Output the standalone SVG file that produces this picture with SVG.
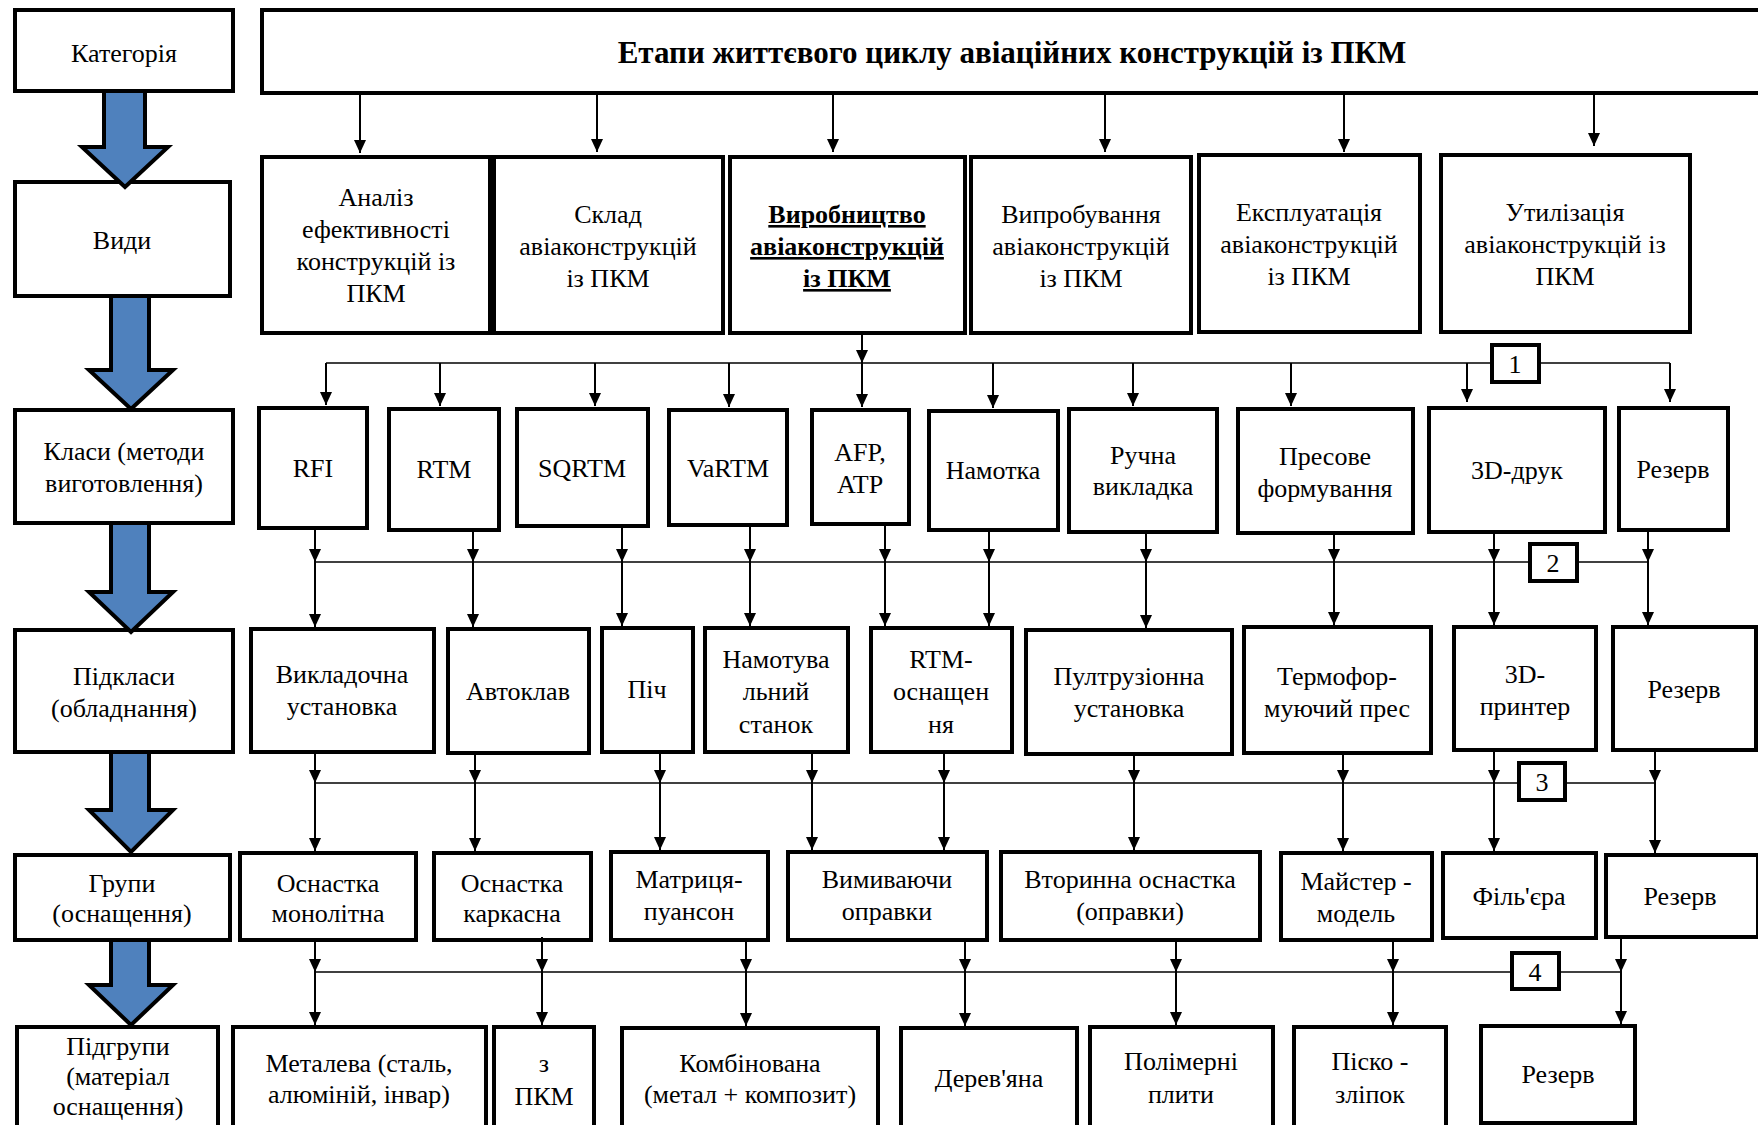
<svg xmlns="http://www.w3.org/2000/svg" width="1758" height="1125" viewBox="0 0 1758 1125">
<style>
  .box{fill:#fff;stroke:#000;stroke-width:4;stroke-linejoin:miter}
  .lbl{fill:#fff;stroke:#000;stroke-width:4}
  .t{font-family:"Liberation Serif","Times New Roman",serif;font-size:26px;fill:#000;text-anchor:middle}
  .tb{font-weight:bold}
  .title{font-family:"Liberation Serif","Times New Roman",serif;font-size:31px;font-weight:bold;fill:#000;text-anchor:middle}
  .v{stroke:#000;stroke-width:2;fill:none}
  .bus{stroke:#000;stroke-width:1.6;fill:none}
  .big{fill:#4F81BD;stroke:#000;stroke-width:4;stroke-linejoin:miter}
</style>
<defs>
  <marker id="ah" viewBox="0 0 13 12" refX="13" refY="6" markerWidth="13" markerHeight="12" markerUnits="userSpaceOnUse" orient="auto">
    <path d="M0,0 L13,6 L0,12 z" fill="#000"/>
  </marker>
</defs>

<!-- Left column -->
<g id="n-cat"><rect class="box" x="15" y="10" width="218" height="81"/><text class="t" x="124" y="62">Категорія</text></g>
<g id="n-vydy"><rect class="box" x="15" y="182" width="215" height="114"/><text class="t" x="122" y="249">Види</text></g>
<g id="n-klasy"><rect class="box" x="15" y="410" width="218" height="113"/><text class="t" x="124" y="460">Класи (методи</text><text class="t" x="124" y="492">виготовлення)</text></g>
<g id="n-pidklasy"><rect class="box" x="15" y="630" width="218" height="122"/><text class="t" x="124" y="685">Підкласи</text><text class="t" x="124" y="717">(обладнання)</text></g>
<g id="n-hrupy"><rect class="box" x="15" y="855" width="215" height="85"/><text class="t" x="122" y="892">Групи</text><text class="t" x="122" y="922">(оснащення)</text></g>
<g id="n-pidhrupy"><rect class="box" x="17" y="1027" width="201" height="110"/><text class="t" x="118" y="1055">Підгрупи</text><text class="t" x="118" y="1085">(матеріал</text><text class="t" x="118" y="1115">оснащення)</text></g>

<!-- Title -->
<g id="n-title"><rect class="box" x="262" y="10" width="1510" height="83"/><text class="title" x="1012" y="63">Етапи життєвого циклу авіаційних конструкцій із ПКМ</text></g>

<!-- Види row -->
<g id="n-analiz"><rect class="box" x="262" y="157" width="228" height="176"/><text class="t" x="376" y="206">Аналіз</text><text class="t" x="376" y="238">ефективності</text><text class="t" x="376" y="270">конструкцій із</text><text class="t" x="376" y="302">ПКМ</text></g>
<g id="n-sklad"><rect class="box" x="494" y="157" width="229" height="176"/><text class="t" x="608" y="223">Склад</text><text class="t" x="608" y="255">авіаконструкцій</text><text class="t" x="608" y="287">із ПКМ</text></g>
<g id="n-vyrob"><rect class="box" x="730" y="157" width="235" height="176"/><text class="t tb" x="847" y="223" text-decoration="underline">Виробництво</text><text class="t tb" x="847" y="255" text-decoration="underline">авіаконструкцій</text><text class="t tb" x="847" y="287" text-decoration="underline">із ПКМ</text></g>
<g id="n-vypr"><rect class="box" x="971" y="157" width="220" height="176"/><text class="t" x="1081" y="223">Випробування</text><text class="t" x="1081" y="255">авіаконструкцій</text><text class="t" x="1081" y="287">із ПКМ</text></g>
<g id="n-ekspl"><rect class="box" x="1199" y="155" width="221" height="177"/><text class="t" x="1309" y="221">Експлуатація</text><text class="t" x="1309" y="253">авіаконструкцій</text><text class="t" x="1309" y="285">із ПКМ</text></g>
<g id="n-util"><rect class="box" x="1441" y="155" width="249" height="177"/><text class="t" x="1565" y="221">Утилізація</text><text class="t" x="1565" y="253">авіаконструкцій із</text><text class="t" x="1565" y="285">ПКМ</text></g>

<!-- Класи row -->
<g id="n-rfi"><rect class="box" x="259" y="408" width="108" height="120"/><text class="t" x="313" y="477">RFI</text></g>
<g id="n-rtm"><rect class="box" x="389" y="409" width="110" height="121"/><text class="t" x="444" y="478">RTM</text></g>
<g id="n-sqrtm"><rect class="box" x="517" y="409" width="131" height="117"/><text class="t" x="582" y="477">SQRTM</text></g>
<g id="n-vartm"><rect class="box" x="669" y="410" width="118" height="115"/><text class="t" x="728" y="477">VaRTM</text></g>
<g id="n-afp"><rect class="box" x="812" y="410" width="97" height="114"/><text class="t" x="860" y="461">AFP,</text><text class="t" x="860" y="493">ATP</text></g>
<g id="n-namotka"><rect class="box" x="929" y="411" width="129" height="119"/><text class="t" x="993" y="479">Намотка</text></g>
<g id="n-ruchna"><rect class="box" x="1069" y="409" width="148" height="123"/><text class="t" x="1143" y="464">Ручна</text><text class="t" x="1143" y="495">викладка</text></g>
<g id="n-presove"><rect class="box" x="1238" y="409" width="175" height="124"/><text class="t" x="1325" y="465">Пресове</text><text class="t" x="1325" y="497">формування</text></g>
<g id="n-3d"><rect class="box" x="1429" y="408" width="176" height="124"/><text class="t" x="1517" y="479">3D-друк</text></g>
<g id="n-rez1"><rect class="box" x="1619" y="408" width="109" height="122"/><text class="t" x="1673" y="478">Резерв</text></g>

<!-- Підкласи row -->
<g id="n-vykl"><rect class="box" x="251" y="629" width="183" height="123"/><text class="t" x="342" y="683">Викладочна</text><text class="t" x="342" y="715">установка</text></g>
<g id="n-avtoklav"><rect class="box" x="448" y="629" width="141" height="124"/><text class="t" x="518" y="700">Автоклав</text></g>
<g id="n-pich"><rect class="box" x="602" y="628" width="91" height="124"/><text class="t" x="647" y="698">Піч</text></g>
<g id="n-namst"><rect class="box" x="705" y="628" width="143" height="124"/><text class="t" x="776" y="668">Намотува</text><text class="t" x="776" y="700">льний</text><text class="t" x="776" y="733">станок</text></g>
<g id="n-rtmosn"><rect class="box" x="871" y="628" width="141" height="124"/><text class="t" x="941" y="668">RTM-</text><text class="t" x="941" y="700">оснащен</text><text class="t" x="941" y="733">ня</text></g>
<g id="n-pultr"><rect class="box" x="1026" y="630" width="206" height="124"/><text class="t" x="1129" y="685">Пултрузіонна</text><text class="t" x="1129" y="717">установка</text></g>
<g id="n-termo"><rect class="box" x="1244" y="627" width="187" height="126"/><text class="t" x="1337" y="685">Термофор-</text><text class="t" x="1337" y="717">муючий прес</text></g>
<g id="n-3dpr"><rect class="box" x="1454" y="627" width="142" height="123"/><text class="t" x="1525" y="683">3D-</text><text class="t" x="1525" y="715">принтер</text></g>
<g id="n-rez2"><rect class="box" x="1613" y="627" width="143" height="123"/><text class="t" x="1684" y="698">Резерв</text></g>

<!-- Групи row -->
<g id="n-monol"><rect class="box" x="240" y="853" width="176" height="87"/><text class="t" x="328" y="892">Оснастка</text><text class="t" x="328" y="922">монолітна</text></g>
<g id="n-kark"><rect class="box" x="434" y="853" width="157" height="87"/><text class="t" x="512" y="892">Оснастка</text><text class="t" x="512" y="922">каркасна</text></g>
<g id="n-matr"><rect class="box" x="611" y="852" width="157" height="88"/><text class="t" x="689" y="888">Матриця-</text><text class="t" x="689" y="920">пуансон</text></g>
<g id="n-vymyv"><rect class="box" x="788" y="852" width="199" height="88"/><text class="t" x="887" y="888">Вимиваючи</text><text class="t" x="887" y="920">оправки</text></g>
<g id="n-vtor"><rect class="box" x="1001" y="852" width="259" height="88"/><text class="t" x="1130" y="888">Вторинна оснастка</text><text class="t" x="1130" y="920">(оправки)</text></g>
<g id="n-majster"><rect class="box" x="1281" y="853" width="151" height="87"/><text class="t" x="1356" y="890">Майстер -</text><text class="t" x="1356" y="922">модель</text></g>
<g id="n-filjera"><rect class="box" x="1443" y="853" width="153" height="85"/><text class="t" x="1519" y="905">Філь'єра</text></g>
<g id="n-rez3"><rect class="box" x="1606" y="855" width="152" height="82"/><text class="t" x="1680" y="905">Резерв</text></g>

<!-- Підгрупи row -->
<g id="n-metal"><rect class="box" x="233" y="1027" width="253" height="110"/><text class="t" x="359" y="1072">Металева (сталь,</text><text class="t" x="359" y="1103">алюміній, інвар)</text></g>
<g id="n-zpkm"><rect class="box" x="494" y="1027" width="100" height="110"/><text class="t" x="544" y="1072">з</text><text class="t" x="544" y="1105">ПКМ</text></g>
<g id="n-komb"><rect class="box" x="622" y="1028" width="256" height="110"/><text class="t" x="750" y="1072">Комбінована</text><text class="t" x="750" y="1103">(метал + композит)</text></g>
<g id="n-derev"><rect class="box" x="901" y="1028" width="176" height="110"/><text class="t" x="989" y="1087">Дерев'яна</text></g>
<g id="n-polim"><rect class="box" x="1090" y="1027" width="183" height="110"/><text class="t" x="1181" y="1070">Полімерні</text><text class="t" x="1181" y="1103">плити</text></g>
<g id="n-pisko"><rect class="box" x="1294" y="1027" width="152" height="110"/><text class="t" x="1370" y="1070">Піско -</text><text class="t" x="1370" y="1103">зліпок</text></g>
<g id="n-rez4"><rect class="box" x="1481" y="1026" width="154" height="97"/><text class="t" x="1558" y="1083">Резерв</text></g>

<!-- Connectors -->
<g id="connectors">
  <!-- big blue category arrows -->
  <polygon class="big" points="104,91 145,91 145,147 168,147 125,187 82,147 104,147"/>
  <polygon class="big" points="111,296 149,296 149,370 173,370 131,409 89,370 111,370"/>
  <polygon class="big" points="111,523 149,523 149,592 173,592 131,632 89,592 111,592"/>
  <polygon class="big" points="111,752 149,752 149,810 173,810 131,852 89,810 111,810"/>
  <polygon class="big" points="111,940 149,940 149,985 173,985 131,1025 89,985 111,985"/>

  <!-- title to Види -->
  <line class="v" x1="360" y1="93" x2="360" y2="153" marker-end="url(#ah)"/>
  <line class="v" x1="597" y1="93" x2="597" y2="152" marker-end="url(#ah)"/>
  <line class="v" x1="833" y1="93" x2="833" y2="152" marker-end="url(#ah)"/>
  <line class="v" x1="1105" y1="93" x2="1105" y2="152" marker-end="url(#ah)"/>
  <line class="v" x1="1344" y1="93" x2="1344" y2="152" marker-end="url(#ah)"/>
  <line class="v" x1="1594" y1="93" x2="1594" y2="146" marker-end="url(#ah)"/>

  <!-- hub 1 -->
  <line class="v" x1="862" y1="333" x2="862" y2="363" marker-end="url(#ah)"/>
  <polyline class="bus" points="326,363 1670,363"/>
  <line class="v" x1="326" y1="363" x2="326" y2="405" marker-end="url(#ah)"/>
  <line class="v" x1="440" y1="363" x2="440" y2="406" marker-end="url(#ah)"/>
  <line class="v" x1="595" y1="363" x2="595" y2="406" marker-end="url(#ah)"/>
  <line class="v" x1="729" y1="363" x2="729" y2="407" marker-end="url(#ah)"/>
  <line class="v" x1="862" y1="363" x2="862" y2="407" marker-end="url(#ah)"/>
  <line class="v" x1="993" y1="363" x2="993" y2="408" marker-end="url(#ah)"/>
  <line class="v" x1="1133" y1="363" x2="1133" y2="406" marker-end="url(#ah)"/>
  <line class="v" x1="1291" y1="363" x2="1291" y2="406" marker-end="url(#ah)"/>
  <line class="v" x1="1467" y1="363" x2="1467" y2="402" marker-end="url(#ah)"/>
  <line class="v" x1="1670" y1="363" x2="1670" y2="402" marker-end="url(#ah)"/>

  <!-- hub 2 -->
  <polyline class="bus" points="315,562 1648,562"/>
  <line class="v" x1="315" y1="528" x2="315" y2="562" marker-end="url(#ah)"/>
  <line class="v" x1="473" y1="530" x2="473" y2="562" marker-end="url(#ah)"/>
  <line class="v" x1="622" y1="526" x2="622" y2="562" marker-end="url(#ah)"/>
  <line class="v" x1="750" y1="525" x2="750" y2="562" marker-end="url(#ah)"/>
  <line class="v" x1="885" y1="524" x2="885" y2="562" marker-end="url(#ah)"/>
  <line class="v" x1="989" y1="530" x2="989" y2="562" marker-end="url(#ah)"/>
  <line class="v" x1="1146" y1="532" x2="1146" y2="562" marker-end="url(#ah)"/>
  <line class="v" x1="1334" y1="533" x2="1334" y2="562" marker-end="url(#ah)"/>
  <line class="v" x1="1494" y1="532" x2="1494" y2="562" marker-end="url(#ah)"/>
  <line class="v" x1="1648" y1="530" x2="1648" y2="562" marker-end="url(#ah)"/>
  <line class="v" x1="315" y1="562" x2="315" y2="627" marker-end="url(#ah)"/>
  <line class="v" x1="473" y1="562" x2="473" y2="627" marker-end="url(#ah)"/>
  <line class="v" x1="622" y1="562" x2="622" y2="626" marker-end="url(#ah)"/>
  <line class="v" x1="750" y1="562" x2="750" y2="626" marker-end="url(#ah)"/>
  <line class="v" x1="885" y1="562" x2="885" y2="626" marker-end="url(#ah)"/>
  <line class="v" x1="989" y1="562" x2="989" y2="626" marker-end="url(#ah)"/>
  <line class="v" x1="1146" y1="562" x2="1146" y2="628" marker-end="url(#ah)"/>
  <line class="v" x1="1334" y1="562" x2="1334" y2="625" marker-end="url(#ah)"/>
  <line class="v" x1="1494" y1="562" x2="1494" y2="625" marker-end="url(#ah)"/>
  <line class="v" x1="1648" y1="562" x2="1648" y2="625" marker-end="url(#ah)"/>

  <!-- hub 3 -->
  <polyline class="bus" points="315,783 1655,783"/>
  <line class="v" x1="315" y1="752" x2="315" y2="783" marker-end="url(#ah)"/>
  <line class="v" x1="475" y1="753" x2="475" y2="783" marker-end="url(#ah)"/>
  <line class="v" x1="660" y1="752" x2="660" y2="783" marker-end="url(#ah)"/>
  <line class="v" x1="812" y1="752" x2="812" y2="783" marker-end="url(#ah)"/>
  <line class="v" x1="944" y1="752" x2="944" y2="783" marker-end="url(#ah)"/>
  <line class="v" x1="1134" y1="754" x2="1134" y2="783" marker-end="url(#ah)"/>
  <line class="v" x1="1343" y1="753" x2="1343" y2="783" marker-end="url(#ah)"/>
  <line class="v" x1="1494" y1="750" x2="1494" y2="783" marker-end="url(#ah)"/>
  <line class="v" x1="1655" y1="750" x2="1655" y2="783" marker-end="url(#ah)"/>
  <line class="v" x1="315" y1="783" x2="315" y2="851" marker-end="url(#ah)"/>
  <line class="v" x1="475" y1="783" x2="475" y2="851" marker-end="url(#ah)"/>
  <line class="v" x1="660" y1="783" x2="660" y2="850" marker-end="url(#ah)"/>
  <line class="v" x1="812" y1="783" x2="812" y2="850" marker-end="url(#ah)"/>
  <line class="v" x1="944" y1="783" x2="944" y2="850" marker-end="url(#ah)"/>
  <line class="v" x1="1134" y1="783" x2="1134" y2="850" marker-end="url(#ah)"/>
  <line class="v" x1="1343" y1="783" x2="1343" y2="851" marker-end="url(#ah)"/>
  <line class="v" x1="1494" y1="783" x2="1494" y2="851" marker-end="url(#ah)"/>
  <line class="v" x1="1655" y1="783" x2="1655" y2="853" marker-end="url(#ah)"/>

  <!-- hub 4 -->
  <polyline class="bus" points="315,972 1621,972"/>
  <line class="v" x1="315" y1="940" x2="315" y2="972" marker-end="url(#ah)"/>
  <line class="v" x1="542" y1="937" x2="542" y2="972" marker-end="url(#ah)"/>
  <line class="v" x1="746" y1="940" x2="746" y2="972" marker-end="url(#ah)"/>
  <line class="v" x1="965" y1="938" x2="965" y2="972" marker-end="url(#ah)"/>
  <line class="v" x1="1176" y1="938" x2="1176" y2="972" marker-end="url(#ah)"/>
  <line class="v" x1="1393" y1="938" x2="1393" y2="972" marker-end="url(#ah)"/>
  <line class="v" x1="1621" y1="937" x2="1621" y2="972" marker-end="url(#ah)"/>
  <line class="v" x1="315" y1="972" x2="315" y2="1025" marker-end="url(#ah)"/>
  <line class="v" x1="542" y1="972" x2="542" y2="1025" marker-end="url(#ah)"/>
  <line class="v" x1="746" y1="972" x2="746" y2="1026" marker-end="url(#ah)"/>
  <line class="v" x1="965" y1="972" x2="965" y2="1026" marker-end="url(#ah)"/>
  <line class="v" x1="1176" y1="972" x2="1176" y2="1025" marker-end="url(#ah)"/>
  <line class="v" x1="1393" y1="972" x2="1393" y2="1025" marker-end="url(#ah)"/>
  <line class="v" x1="1621" y1="972" x2="1621" y2="1024" marker-end="url(#ah)"/>
</g>

<!-- bus labels -->
<g id="n-l1"><rect class="lbl" x="1492" y="345" width="47" height="37"/><text class="t" x="1515" y="373">1</text></g>
<g id="n-l2"><rect class="lbl" x="1530" y="544" width="47" height="37"/><text class="t" x="1553" y="572">2</text></g>
<g id="n-l3"><rect class="lbl" x="1519" y="763" width="46" height="37"/><text class="t" x="1542" y="791">3</text></g>
<g id="n-l4"><rect class="lbl" x="1512" y="953" width="47" height="36"/><text class="t" x="1535" y="981">4</text></g>
</svg>
